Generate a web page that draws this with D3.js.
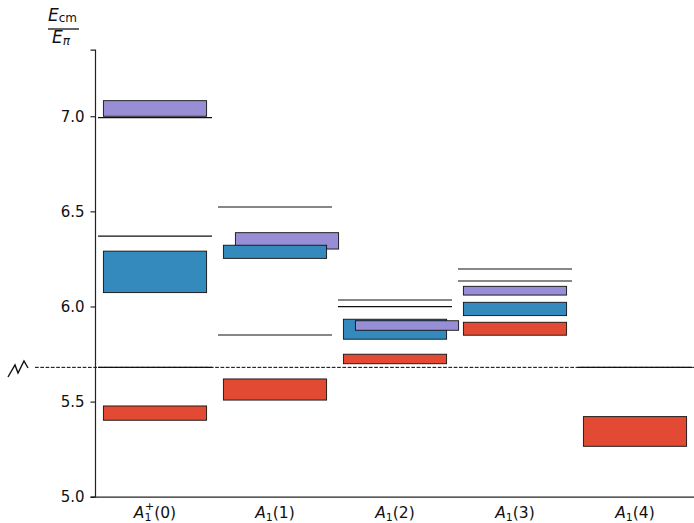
<!DOCTYPE html>
<html>
<head>
<meta charset="utf-8">
<script src="https://cdn.jsdelivr.net/npm/d3@7"></script>
<style>
  body { margin: 0; background: #fff; }
  text { font-family: "DejaVu Sans", sans-serif; }
</style>
</head>
<body>
<div class="chart"></div>
<script>
// categories (irreps) along the x axis
var categories = ["A1+(0)", "A1(1)", "A1(2)", "A1(3)", "A1(4)"];
var yTicks = [5.0, 5.5, 6.0, 6.5, 7.0];
var threshold = 5.680;

// energy bands per series, low / high edge, and the x position of each box
var redLo = [5.402, 5.508, 5.699, 5.849, 5.265];
var redHi = [5.477, 5.619, 5.749, 5.917, 5.421];
var redX = [0, 1, 2, 3, 4];
var blueLo = [6.073, 6.253, 5.828, 5.952];
var blueHi = [6.291, 6.322, 5.933, 6.022];
var blueX = [0, 1, 2, 3];
var purpleLo = [7.000, 6.302, 5.875, 6.060];
var purpleHi = [7.082, 6.388, 5.925, 6.106];
var purpleX = [0, 1.1, 2.1, 3];

// non-interacting levels (category index, energy)
var levelCat = [0, 0, 0, 1, 1, 2, 2, 3, 3, 4];
var levelE = [6.993, 6.370, 5.680, 6.523, 5.850, 6.034, 5.999, 6.197, 6.134, 5.680];

var colors = { red: "#E24A33", blue: "#348ABD", purple: "#988ED5" };

var svgWidth = 694, svgHeight = 523;
var svg = d3.select(".chart").append("svg")
  .attr("width", svgWidth)
  .attr("height", svgHeight);

var x = d3.scaleLinear().domain([-0.5, 4.5]).range([95, 695]);
var y = d3.scaleLinear().domain([5, 7.35]).range([496.7, 49.7]);

// build boxes list in drawing order
var boxes = [];
function addSeries(lo, hi, xs, c, skip) {
  lo.forEach(function(v, i) {
    if (skip && skip(i)) return;
    boxes.push({ x: xs[i], lo: v, hi: hi[i], c: c, i: i });
  });
}
addSeries(redLo, redHi, redX, "red");
addSeries(purpleLo, purpleHi, purpleX, "purple", function(i) { return i == 2; });
addSeries(blueLo, blueHi, blueX, "blue");
addSeries(purpleLo, purpleHi, purpleX, "purple", function(i) { return i != 2; });

var boxHalf = 0.43, lineHalf = 0.475;

// dashed threshold line
svg.append("line")
  .attr("x1", 35).attr("x2", svgWidth)
  .attr("y1", y(threshold)).attr("y2", y(threshold))
  .attr("stroke", "#000").attr("stroke-width", 1)
  .attr("stroke-dasharray", "3.7,1.6");

// non-interacting levels
svg.selectAll("line.level")
  .data(levelE)
  .enter().append("line")
  .attr("class", "level")
  .attr("x1", (d, i) => x(levelCat[i] - lineHalf))
  .attr("x2", (d, i) => x(levelCat[i] + lineHalf))
  .attr("y1", d => y(d)).attr("y2", d => y(d))
  .attr("stroke", "#111").attr("stroke-width", 1.2);

// boxes
svg.selectAll("rect.box")
  .data(boxes)
  .enter().append("rect")
  .attr("class", "box")
  .attr("x", d => x(d.x - boxHalf))
  .attr("width", d => x(d.x + boxHalf) - x(d.x - boxHalf))
  .attr("y", d => y(d.hi))
  .attr("height", d => y(d.lo) - y(d.hi))
  .attr("fill", d => colors[d.c])
  .attr("stroke", "#111").attr("stroke-width", 0.9);

// axes
var leftAxis = d3.axisLeft(y).tickValues(yTicks).tickFormat(d3.format(".1f")).tickSize(4.5).tickPadding(6);
var gy = svg.append("g").attr("transform", "translate(95,0)").call(leftAxis);
gy.attr("font-size", null).attr("font-family", null);
gy.select(".domain").attr("stroke", "#222").attr("stroke-width", 1.2);
gy.selectAll("text").style("font-size", "15px").attr("fill", "#111");

var bottomAxis = d3.axisBottom(x).tickValues([]).tickSizeOuter(0);
var gx = svg.append("g").attr("transform", "translate(0,496.7)").call(bottomAxis);
gx.select(".domain").attr("stroke", "#222").attr("stroke-width", 1.2);

// x category labels: italic A, subscript 1, optional superscript +
categories.forEach(function(lab, i) {
  var plus = lab.indexOf("+") >= 0;
  var arg = lab.slice(lab.indexOf("("));
  var t = svg.append("text")
    .attr("x", x(i)).attr("y", 518)
    .attr("text-anchor", "middle")
    .style("font-size", "15.5px").attr("fill", "#111");
  t.append("tspan").attr("font-style", "italic").text("A");
  t.append("tspan").style("font-size", "11px").attr("dy", 3).text("1");
  if (plus) {
    t.append("tspan").style("font-size", "11px").attr("dx", -6.5).attr("dy", -11).text("+");
    t.append("tspan").attr("dy", 8).text(arg);
  } else {
    t.append("tspan").attr("dy", -3).text(arg);
  }
});

// y label as fraction E_cm / E_pi
var lab = svg.append("text").attr("x", 48).attr("y", 21).style("font-size", "17px").attr("fill", "#111");
lab.append("tspan").attr("font-style", "italic").text("E");
lab.append("tspan").style("font-size", "12px").attr("dy", 1).text("cm");
svg.append("line").attr("x1", 48).attr("x2", 79).attr("y1", 29).attr("y2", 29)
  .attr("stroke", "#111").attr("stroke-width", 1.3);
var lab2 = svg.append("text").attr("x", 52).attr("y", 43).style("font-size", "17px").attr("fill", "#111");
lab2.append("tspan").attr("font-style", "italic").text("E");
lab2.append("tspan").style("font-size", "12px").attr("font-style", "italic").attr("dy", 2).text("π");

// axis break marker
svg.append("path")
  .attr("d", d3.line()([[8, 377], [15, 365], [18, 373], [24, 361], [28, 368]]))
  .attr("fill", "none").attr("stroke", "#111").attr("stroke-width", 1.4)
  .attr("stroke-linejoin", "miter");
</script>
</body>
</html>
